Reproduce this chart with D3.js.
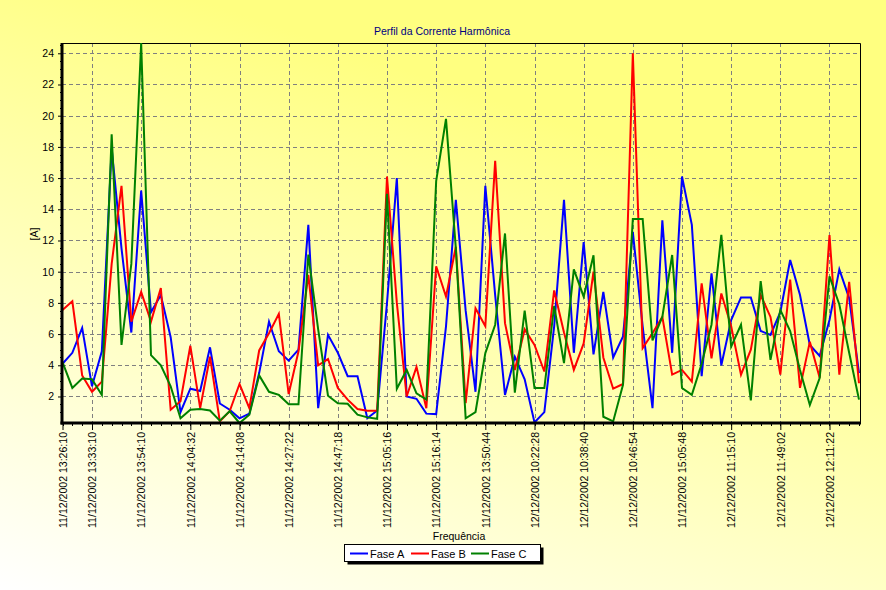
<!DOCTYPE html>
<html><head><meta charset="utf-8">
<script src="https://cdn.jsdelivr.net/npm/d3@7"></script>
<style>html,body{margin:0;padding:0;background:#fff}svg{display:block}text{font-family:"Liberation Sans",Arial,sans-serif}</style>
</head><body>
<script>
const title = "Perfil da Corrente Harmônica";
const yTitle = "[A]";
const xTitle = "Frequência";
const seriesNames = ["Fase A", "Fase B", "Fase C"];
const seriesColors = ["#0000ff", "#ff0000", "#008000"];
const labelIndex = [0, 3, 8, 13, 18, 23, 28, 33, 38, 43, 48, 53, 58, 63, 68, 73, 78];
const tickLabels = ["11/12/2002 13:26:10","11/12/2002 13:33:10","11/12/2002 13:54:10","11/12/2002 14:04:32","11/12/2002 14:14:08","11/12/2002 14:27:22","11/12/2002 14:47:18","11/12/2002 15:05:16","11/12/2002 15:16:14","11/12/2002 13:50:44","12/12/2002 10:22:28","12/12/2002 10:38:40","12/12/2002 10:46:54","11/12/2002 15:05:48","12/12/2002 11:15:10","12/12/2002 11:49:02","12/12/2002 12:11:22"];
const yTicks = [2,4,6,8,10,12,14,16,18,20,22,24];
const faseA = [4.1,4.8,6.4,2.65,4.9,17.9,11.5,6.1,15.2,7.4, 8.5,5.8,1.0,2.5,2.35,5.15,1.55,1.15,0.6,0.9, 3.5,6.8,4.9,4.3,5.0,13.0,1.25,5.95,4.8,3.3, 3.3,0.6,1.1,8.0,16.0,2.0,1.85,0.9,0.87,6.5, 14.6,7.5,2.3,15.5,8.5,2.1,4.55,3.1,0.33,1.0, 6.5,14.6,4.8,11.9,4.7,8.7,4.5,5.85,12.55,6.5, 1.25,13.3,4.8,16.1,13.0,3.3,9.9,4.0,6.9,8.35, 8.35,6.2,5.95,7.4,10.75,8.5,5.3,4.6,6.9,10.15, 8.3,3.5];
const faseB = [7.55,8.1,3.35,2.3,2.95,10.5,15.5,6.8,8.7,6.8, 8.95,1.15,1.7,5.25,1.25,4.55,0.4,1.05,2.8,1.25, 4.95,6.05,7.3,2.15,4.9,9.8,4.0,4.4,2.55,1.8, 1.2,1.08,1.08,16.1,8.0,2.0,3.9,1.25,10.35,8.4, 11.6,1.58,7.65,6.5,17.1,6.7,3.7,6.3,5.3,3.6, 8.8,6.1,3.7,5.4,10.0,4.5,2.5,2.8,24.0,5.1, 6.05,7.1,3.4,3.7,2.95,9.25,4.45,8.6,6.5,3.4, 5.0,8.5,7.1,3.4,9.5,2.55,5.5,3.2,12.35,3.4, 9.35,2.85];
const faseC = [4.2,2.55,3.15,3.1,2.1,18.8,5.3,10.5,24.66,4.65, 4.0,2.65,0.6,1.15,1.2,1.1,0.45,1.05,0.3,0.83, 3.35,2.3,2.1,1.5,1.5,11.1,6.3,2.05,1.57,1.53, 0.83,0.66,0.57,15.0,2.5,3.7,2.2,1.8,15.8,19.8, 11.5,0.6,1.0,4.78,6.6,12.45,2.25,7.5,2.54,2.54, 7.8,4.14,10.15,8.4,11.05,0.7,0.4,2.75,13.38,13.38, 5.6,7.1,11.07,2.54,2.1,4.1,6.6,12.36,5.2,6.6, 1.75,9.4,4.35,7.55,6.2,3.7,1.45,3.18,9.7,7.9, 4.8,1.8];

const W = 886, H = 590;
const L = 62, R = 860, T = 43, B = 423;
const series = [faseA, faseB, faseC];
const all = series.flat();
const n = faseA.length;

const svg = d3.select("body").append("svg").attr("width", W).attr("height", H);
const defs = svg.append("defs");
const g = defs.append("linearGradient").attr("id","bg").attr("gradientUnits","userSpaceOnUse")
  .attr("x1",0).attr("y1",H).attr("x2",200).attr("y2",0);
g.append("stop").attr("offset",0).attr("stop-color","#ffffff");
g.append("stop").attr("offset",1).attr("stop-color","#ffff80");
svg.append("rect").attr("width",W).attr("height",H).attr("fill","url(#bg)");

const x = d3.scaleLinear().domain([0, n-1]).range([L+0.5, R-1]);
const y = d3.scaleLinear().domain([d3.min(all), d3.max(all)]).range([B, T]);

// grid
svg.append("g").selectAll("line").data(yTicks).join("line")
  .attr("x1",L).attr("x2",R).attr("y1",d=>Math.round(y(d))+0.5).attr("y2",d=>Math.round(y(d))+0.5)
  .attr("stroke","#808080").attr("stroke-dasharray","4,3").attr("stroke-width",1);
svg.append("g").selectAll("line").data(labelIndex.filter(d=>d>0)).join("line")
  .attr("y1",T).attr("y2",B).attr("x1",d=>Math.round(x(d))+0.5).attr("x2",d=>Math.round(x(d))+0.5)
  .attr("stroke","#808080").attr("stroke-dasharray","4,3").attr("stroke-width",1);

// frame top/right thin
svg.append("path").attr("d",`M${L},${T+0.5}H${R+0.5}V${B}`).attr("fill","none").attr("stroke","#000").attr("stroke-width",1);

// lines
const line = d3.line().x((d,i)=>x(i)).y(d=>y(d));
series.forEach((s,k)=>{
  svg.append("path").datum(s).attr("d",line).attr("fill","none")
    .attr("stroke",seriesColors[k]).attr("stroke-width",2).attr("stroke-linejoin","miter");
});

// y axis
const yAxis = svg.append("g").attr("transform",`translate(${L},0)`)
  .call(d3.axisLeft(y).tickValues(yTicks).tickSize(4).tickPadding(4).tickFormat(d3.format("d")));
yAxis.select(".domain").remove();
yAxis.selectAll("text").attr("font-size","10.5px").attr("fill","#000").attr("font-family","'Liberation Sans',Arial,sans-serif");
const yMinor = d3.range(1, 24.6, 0.5).filter(v=>v>=y.domain()[0] && !yTicks.includes(v));
svg.append("g").selectAll("line").data(yMinor).join("line")
  .attr("x1",L-2).attr("x2",L).attr("y1",d=>Math.round(y(d))+0.5).attr("y2",d=>Math.round(y(d))+0.5).attr("stroke","#000");

// x axis
const xAxis = svg.append("g").attr("transform",`translate(0,${B})`)
  .call(d3.axisBottom(x).tickValues(labelIndex).tickSize(7).tickFormat((d,i)=>tickLabels[i]));
xAxis.select(".domain").remove();
xAxis.selectAll("text").attr("transform","rotate(-90)").attr("x",-9).attr("y",0).attr("dy","0.35em")
  .style("text-anchor","end").attr("font-size","10.5px").attr("fill","#000")
  .attr("textLength",96).attr("lengthAdjust","spacingAndGlyphs");
svg.append("g").selectAll("line").data(d3.range(n)).join("line")
  .attr("x1",d=>Math.round(x(d))+0.5).attr("x2",d=>Math.round(x(d))+0.5).attr("y1",B).attr("y2",B+3).attr("stroke","#000");

// thick axes
svg.append("line").attr("x1",L).attr("x2",L).attr("y1",T).attr("y2",B+1.5).attr("stroke","#000").attr("stroke-width",3);
svg.append("line").attr("x1",L-1.5).attr("x2",R+1).attr("y1",B).attr("y2",B).attr("stroke","#000").attr("stroke-width",3);

// titles
svg.append("text").attr("x",442).attr("y",35).attr("text-anchor","middle").attr("font-size","10.5px").attr("fill","#000080").text(title);
svg.append("text").attr("transform","translate(38,234) rotate(-90)").attr("text-anchor","middle").attr("font-size","10.5px").attr("fill","#000").text(yTitle);
svg.append("text").attr("x",459).attr("y",540).attr("text-anchor","middle").attr("font-size","10.5px").attr("fill","#000").text(xTitle);

// legend
const lg = svg.append("g");
lg.append("rect").attr("x",347.5).attr("y",547.5).attr("width",196).attr("height",17).attr("fill","#000");
lg.append("rect").attr("x",344.5).attr("y",544.5).attr("width",196).attr("height",17).attr("fill","#fff").attr("stroke","#000");
const lx = [350, 411, 471];
seriesNames.forEach((s,k)=>{
  lg.append("line").attr("x1",lx[k]).attr("x2",lx[k]+18).attr("y1",553.5).attr("y2",553.5).attr("stroke",seriesColors[k]).attr("stroke-width",2);
  lg.append("text").attr("x",lx[k]+20).attr("y",557.5).attr("font-size","11px").attr("fill","#000").text(s);
});
</script>
</body></html>
